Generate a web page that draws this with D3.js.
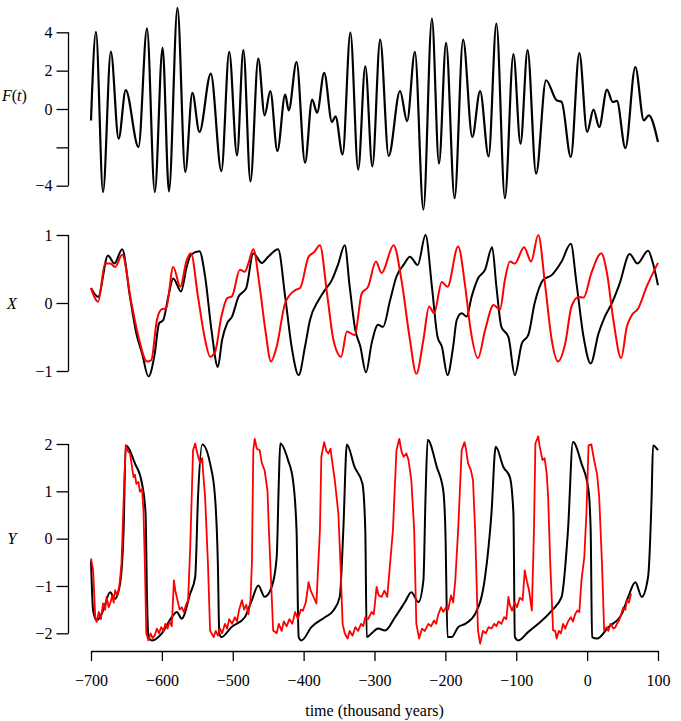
<!DOCTYPE html>
<html>
<head>
<meta charset="utf-8">
<script src="https://cdn.jsdelivr.net/npm/d3@7"></script>
<style>
  body { margin: 0; background: #fff; }
  text { font-family: "Liberation Serif", "DejaVu Serif", serif; }
</style>
</head>
<body>
<svg width="681" height="721"></svg>
<script>
// forcing term F(t)
const fTime = [-700,-693,-683,-672,-661,-651,-633,-621,-610,-599,-590,-578,-567,-557,-547,-531,-516,-505,-494,-485,-475,-464,-455,-447,-437,-426,-421,-410,-398,-388,-381,-371,-360,-355,-345,-334,-323,-313,-303,-292,-280,-264,-254,-243,-231,-219,-209,-199,-187,-175,-162,-151,-139,-128,-116,-104,-94,-84,-72,-58,-43,-36,-23,-11,0,9,17,28,36,42,54,68,80,87,100];
const fVal = [-0.6,4.02,-4.33,3.0,-1.55,0.98,-1.98,4.2,-4.33,3.19,-4.3,5.27,-3.29,0.84,-1.2,1.85,-3.24,2.98,-2.42,3.07,-3.78,2.63,-0.33,0.94,-2.19,0.75,-0.07,2.45,-2.8,0.49,-0.19,1.88,-0.68,-0.38,-2.37,3.99,-3.16,2.23,-2.99,3.62,-2.45,0.94,-0.63,2.98,-5.25,4.72,-2.85,3.45,-4.65,3.62,-1.46,0.94,-2.47,4.46,-4.65,2.86,-1.81,3.07,-3.37,1.5,0.45,0.37,-2.5,2.92,-1.2,-0.03,-0.94,1.01,0.37,0.42,-2.04,2.19,-0.59,-0.33,-1.72];

// X, black and red
const xBlackTime = [-700,-690,-676,-667,-656,-645,-636,-628,-619,-610,-604,-598,-591,-584,-573,-565,-559,-547,-539,-530,-521,-515,-508,-501,-492,-481,-471,-459,-450,-436,-426,-417,-407,-398,-391,-379,-370,-360,-351,-342,-335,-327,-320,-312,-304,-295,-288,-278,-269,-259,-250,-239,-228,-219,-211,-205,-197,-189,-184,-177,-170,-163,-154,-144,-134,-128,-121,-111,-102,-92,-83,-74,-62,-50,-36,-23,-15,-5,5,16,25,35,46,60,71,86,93,100];
const xBlackVal = [0.22,0.09,0.70,0.58,0.79,0.09,-0.45,-0.74,-1.08,-0.74,-0.3,-0.25,0.09,0.36,0.17,0.53,0.71,0.76,0.39,-0.4,-0.94,-0.54,-0.3,-0.2,0.09,0.22,0.73,0.59,0.68,0.79,0.09,-0.64,-1.06,-0.64,-0.25,0.04,0.19,0.34,0.58,0.85,0.24,-0.4,-0.64,-1.02,-0.59,-0.32,-0.35,0.04,0.39,0.56,0.68,0.56,1.0,0.24,-0.5,-0.64,-1.06,-0.64,-0.25,-0.15,-0.2,0.09,0.36,0.49,0.82,0.24,-0.35,-0.5,-1.06,-0.59,-0.47,0,0.34,0.41,0.61,0.87,0.29,-0.5,-0.89,-0.45,-0.2,0,0.29,0.72,0.58,0.77,0.58,0.26];
const xRedTime = [-700,-690,-680,-673,-666,-656,-643,-633,-621,-615,-607,-600,-594,-584,-574,-565,-559,-549,-539,-532,-525,-516,-508,-501,-490,-483,-478,-471,-462,-454,-446,-438,-426,-412,-405,-393,-385,-377,-367,-358,-347,-339,-328,-318,-309,-298,-290,-273,-262,-250,-241,-231,-223,-216,-205,-197,-182,-172,-165,-154,-144,-132,-123,-116,-109,-102,-89,-79,-69,-59,-50,-41,-31,-22,-12,-5,6,20,28,37,48,56,63,72,84,100];
const xRedVal = [0.22,0.02,0.58,0.58,0.53,0.71,0,-0.5,-0.86,-0.84,-0.25,-0.09,-0.08,0.53,0.24,0.63,0.73,0.09,-0.54,-0.79,-0.72,-0.2,0.07,0.1,0.49,0.46,0.58,0.79,0.24,-0.4,-0.86,-0.64,0,0.19,0.22,0.68,0.75,0.85,0.14,-0.54,-0.79,-0.42,-0.47,0.14,0.24,0.61,0.44,0.85,0.34,-0.54,-1.04,-0.54,-0.05,-0.15,0.31,0.24,0.83,0.24,-0.35,-0.81,-0.4,-0.03,-0.1,0.34,0.61,0.58,0.82,0.61,1.0,0.24,-0.54,-0.86,-0.6,-0.05,0.09,0.08,0.44,0.73,0.44,-0.25,-0.81,-0.35,-0.18,-0.08,0.24,0.59];

// Y, black and red
const yBlackTime = [-700,-697,-692,-683,-673,-666,-659,-654,-651,-638,-628,-623,-621,-619,-614,-600,-586,-579,-572,-560,-553,-549,-543,-532,-525,-521,-519,-516,-502,-483,-473,-464,-455,-445,-438,-435,-433,-422,-415,-410,-407,-403,-389,-370,-358,-349,-344,-339,-328,-317,-313,-311,-304,-295,-285,-271,-257,-248,-238,-231,-228,-225,-212,-203,-200,-197,-191,-182,-172,-158,-144,-135,-129,-118,-109,-104,-102,-97,-83,-69,-50,-36,-27,-20,-8,2,5,7,14,30,49,58,68,77,86,91,93,100];
const yBlackVal = [-0.46,-1.52,-1.73,-1.52,-1.13,-1.27,-0.95,0.18,1.97,1.59,1.16,0.53,-1.23,-2.08,-2.15,-2.0,-1.66,-1.55,-1.69,-1.16,-0.81,0.88,1.99,1.59,0.88,-0.53,-2.0,-2.08,-1.87,-1.66,-1.3,-0.99,-1.23,-1.02,-0.39,1.2,2.01,1.66,1.23,0.18,-2.08,-2.15,-1.87,-1.66,-1.52,-1.23,0.18,1.99,1.51,1.16,0.18,-2.08,-2.0,-1.9,-1.94,-1.66,-1.34,-1.13,-1.34,-0.88,0.88,2.09,1.51,1.02,0.18,-2.08,-2.08,-1.87,-1.8,-1.59,-0.81,0.53,1.94,1.51,1.3,0.53,-2.08,-2.15,-1.97,-1.8,-1.52,-1.23,0.18,2.04,1.59,1.02,0.18,-2.08,-2.11,-1.87,-1.59,-1.23,-0.92,-1.23,-0.81,0.88,1.97,1.87];
const yRedTime = [-700,-697,-694,-692,-689,-686,-683,-680,-678,-675,-673,-670,-668,-666,-663,-660,-657,-653,-651,-648,-645,-642,-640,-638,-636,-633,-631,-628,-626,-624,-622,-619,-616,-613,-610,-607,-604,-601,-598,-595,-592,-589,-586,-583,-581,-578,-575,-572,-569,-566,-563,-560,-556,-553,-550,-546,-543,-542,-539,-535,-532,-527,-524,-521,-518,-515,-511,-508,-505,-501,-497,-494,-491,-487,-484,-481,-478,-475,-473,-471,-469,-466,-462,-459,-455,-451,-449,-446,-443,-438,-435,-431,-428,-424,-420,-416,-412,-408,-404,-401,-397,-393,-390,-386,-382,-377,-375,-371,-368,-365,-362,-360,-356,-351,-348,-345,-342,-338,-335,-331,-327,-323,-319,-316,-313,-309,-304,-301,-297,-294,-290,-286,-282,-274,-269,-265,-262,-259,-255,-252,-248,-244,-241,-237,-233,-229,-224,-220,-216,-213,-210,-206,-203,-199,-196,-192,-189,-186,-182,-177,-173,-171,-168,-164,-161,-158,-154,-151,-147,-143,-139,-135,-131,-128,-125,-121,-117,-114,-111,-109,-106,-102,-99,-95,-91,-88,-85,-82,-78,-75,-73,-69,-67,-63,-60,-57,-55,-52,-48,-45,-43,-40,-37,-34,-31,-27,-23,-20,-17,-14,-11,-8,-4,-1,2,6,9,12,14,17,21,24,28,30,33,37,40,42,45,48,51,54,56,59,62,65,68,71,74,77,80,83,86,89,93,96,98,100];
const yRedVal = [-0.42,-0.67,-1.66,-1.76,-1.55,-1.7,-1.37,-1.5,-1.23,-1.45,-1.37,-1.2,-1.35,-1.09,-1.2,-1.0,-0.53,1.23,1.97,1.85,1.8,1.5,1.3,1.35,1.16,1.2,0.99,1.05,0.6,-0.53,-2.0,-2.15,-2.0,-2.1,-2.04,-1.9,-2.0,-1.87,-1.95,-1.8,-1.9,-1.75,-1.85,-0.88,-1.1,-1.3,-1.5,-1.45,-1.55,-1.4,-1.3,-0.18,1.87,2.01,1.8,1.59,1.7,1.44,0.88,-0.53,-1.94,-2.08,-1.95,-2.05,-1.9,-2.0,-1.8,-1.9,-1.7,-1.8,-1.66,-1.75,-1.5,-1.3,-1.5,-1.4,-1.6,-1.3,-0.53,1.87,2.11,1.9,1.87,1.6,1.44,1.02,0.18,-0.88,-1.94,-2.0,-1.8,-1.95,-1.75,-1.85,-1.7,-1.8,-1.55,-1.7,-1.5,-1.52,-1.35,-0.92,-1.1,-1.23,-1.37,0.18,1.73,2.04,1.85,1.8,1.9,1.66,1.23,0.53,-0.53,-1.8,-2.0,-2.11,-1.95,-2.05,-1.87,-1.95,-1.8,-1.85,-1.66,-1.7,-1.55,-1.6,-1.02,-1.2,-1.23,-1.1,-1.23,0.18,1.87,2.11,1.85,1.73,1.8,1.66,1.23,0.18,-1.8,-2.11,-1.9,-1.95,-1.8,-1.85,-1.73,-1.8,-1.6,-1.45,-1.55,-1.45,-1.5,-1.2,-1.35,-0.88,0.18,1.87,2.04,1.9,1.59,1.45,1.23,0.18,-1.94,-2.22,-1.95,-2.0,-1.87,-1.9,-1.8,-1.85,-1.75,-1.8,-1.66,-1.7,-1.23,-1.4,-1.52,-1.35,-1.45,-1.25,-1.3,-0.67,-0.9,-1.09,-1.52,0.18,2.01,2.16,1.95,1.66,1.7,1.37,0.88,-0.53,-1.94,-1.95,-2.11,-1.95,-2.0,-1.8,-1.9,-1.75,-1.66,-1.75,-1.6,-1.52,-1.55,-0.88,-0.39,0.53,1.97,1.99,1.73,1.5,1.37,0.88,-0.53,-1.94,-1.87,-1.95,-1.8,-1.9,-1.87,-1.8,-1.73,-1.6,-1.45,-1.5,-1.3,-1.35,-1.16];

const xTicks = [-700,-600,-500,-400,-300,-200,-100,0,100];

const svg = d3.select("svg");

const x = d3.scaleLinear().domain([-700, 100]).range([91, 658]);

const panels = [
  { label: "F(t)", ticks: [-4,-2,0,2,4], hide: [-2], y: d3.scaleLinear().domain([-4, 4]).range([185.7, 32.3]), labelY: 95 },
  { label: "X", ticks: [-1,0,1], hide: [], y: d3.scaleLinear().domain([-1, 1]).range([371, 235]), labelY: 303 },
  { label: "Y", ticks: [-2,-1,0,1,2], hide: [], y: d3.scaleLinear().domain([-2, 2]).range([633.3, 444]), labelY: 538 }
];

// y axes, R style: line only between first and last tick
panels.forEach(p => {
  const g = svg.append("g")
    .attr("transform", "translate(68.5,0)")
    .call(d3.axisLeft(p.y).tickValues(p.ticks).tickSize(12).tickPadding(4)
      .tickFormat(d => p.hide.includes(d) ? "" : d3.format("")(d)))
    .attr("font-family", "Liberation Serif")
    .attr("font-size", 16);
  g.select(".domain").remove();
  g.append("line")
    .attr("y1", p.y(d3.min(p.ticks))).attr("y2", p.y(d3.max(p.ticks)))
    .attr("stroke", "#000").attr("stroke-width", 1.3);
  g.selectAll(".tick line").attr("stroke-width", 1.3);

  const lab = svg.append("text")
    .attr("x", p.label === "F(t)" ? 2 : 12)
    .attr("y", p.labelY)
    .attr("dy", "0.35em")
    .attr("text-anchor", p.label === "F(t)" ? "start" : "middle")
    .style("font-size", "16px")
    .style("font-style", "italic");
  if (p.label === "F(t)") {
    lab.append("tspan").text("F");
    lab.append("tspan").style("font-style", "normal").text("(");
    lab.append("tspan").text("t");
    lab.append("tspan").style("font-style", "normal").text(")");
  } else {
    lab.text(p.label);
  }
});

// bottom axis
const gx = svg.append("g")
  .attr("transform", "translate(0,651)")
  .call(d3.axisBottom(x).tickValues(xTicks).tickSize(10).tickSizeOuter(0).tickPadding(14))
  .attr("font-family", "Liberation Serif")
  .attr("font-size", 16);
gx.select(".domain").attr("stroke-width", 1.3);
gx.selectAll(".tick line").attr("stroke-width", 1.3);

svg.append("text")
  .attr("x", (x(-700) + x(100)) / 2)
  .attr("y", 716)
  .attr("text-anchor", "middle")
  .style("font-size", "16px")
  .text("time (thousand years)");

// lines
function drawLine(times, vals, yScale, color, curve, width) {
  const pts = times.map((t, i) => [t, vals[i]]);
  svg.append("path")
    .datum(pts)
    .attr("fill", "none")
    .attr("stroke", color)
    .attr("stroke-width", width)
    .attr("stroke-linejoin", "round")
    .attr("d", d3.line().x(d => x(d[0])).y(d => yScale(d[1])).curve(curve));
}

drawLine(fTime, fVal, panels[0].y, "#000", d3.curveMonotoneX, 2.2);
drawLine(xBlackTime, xBlackVal, panels[1].y, "#000", d3.curveMonotoneX, 2);
drawLine(xRedTime, xRedVal, panels[1].y, "#ff0000", d3.curveMonotoneX, 2);
drawLine(yBlackTime, yBlackVal, panels[2].y, "#000", d3.curveMonotoneX, 2);
drawLine(yRedTime, yRedVal, panels[2].y, "#ff0000", d3.curveLinear, 1.8);
</script>
</body>
</html>
